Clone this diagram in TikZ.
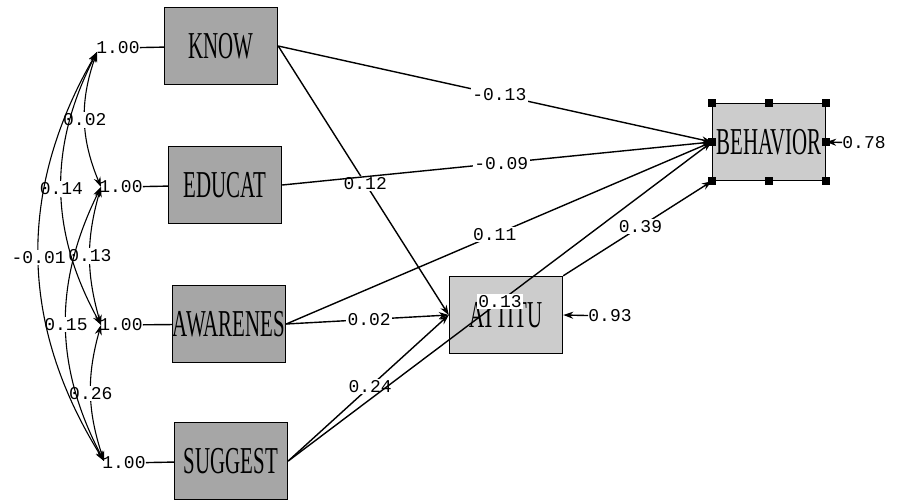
\documentclass[tikz,border=0pt]{standalone}
\usepackage{fontspec}
\newfontfamily\numfont{Liberation Mono}
\newfontfamily\namefont{Liberation Serif}
\usetikzlibrary{arrows.meta}
\newcommand{\varname}[1]{\scalebox{0.55}[1]{\namefont\fontsize{38}{38}\selectfont #1}}

\begin{document}
\begin{tikzpicture}[
    x=1pt,y=-1pt,
    obs/.style={rectangle,draw,line width=1.4pt,fill=gray!70,minimum width=113pt,minimum height=77pt,inner sep=0pt},
    lat/.style={obs,fill=gray!40},
    lbl/.style={fill=white,inner sep=1.5pt,font=\numfont\fontsize{18}{18}\selectfont},
    var/.style={inner sep=0pt,font=\numfont\fontsize{18}{18}\selectfont},
    arrow/.style={line width=1.4pt,->,>={Stealth[length=10pt,width=7pt]}},
    cov/.style={line width=1.1pt,<->,>={Stealth[length=10pt,width=7pt]}},
    handle/.style={fill=black,minimum size=8pt,inner sep=0pt}
]
    \useasboundingbox (0,0) rectangle (902,501);

    % observed variables
    \node[obs] (know) at (221,46) {\varname{KNOW}};
    \node[obs] (educ) at (225,185) {\varname{EDUCAT}};
    \node[obs] (aware) at (229,324) {\varname{AWARENES}};
    \node[obs] (sugg) at (231,461) {\varname{SUGGEST}};
    \node[lat] (attit) at (506,315) {\varname{ATTITU}};
    \node[lat] (behav) at (769,142) {\varname{BEHAVIOR}};

    % variances
    \node[var] (vK) at (118,48) {1.00};
    \node[var] (vE) at (121,187) {1.00};
    \node[var] (vA) at (121,325) {1.00};
    \node[var] (vS) at (124,463) {1.00};
    \draw[line width=1.4pt] (vK) -- (know);
    \draw[line width=1.4pt] (vE) -- (educ);
    \draw[line width=1.4pt] (vA) -- (aware);
    \draw[line width=1.4pt] (vS) -- (sugg);

    \coordinate (cK) at (97,52);
    \coordinate (cE) at (101,187);
    \coordinate (cA) at (101,325);
    \coordinate (cS) at (104,461);

    % covariances
    \draw[cov] (cK) to[bend right=21] node[lbl] {0.02} (cE);
    \draw[cov] (cE) to[bend right=16] node[lbl] {0.13} (cA);
    \draw[cov] (cA) to[bend right=17] node[lbl] {0.26} (cS);
    \draw[cov] (cK) to[bend right=28] node[lbl] {0.14} (cA);
    \draw[cov] (cE) to[bend right=27] node[lbl] {0.15} (cS);
    \draw[cov] (cK) to[bend right=31] node[lbl] {-0.01} (cS);

    % paths
    \draw[arrow] (know.east) -- node[lbl,pos=0.51] {-0.13} (behav.west);
    \draw[arrow] (know.east) -- node[lbl,pos=0.51] {0.12} (attit.west);
    \draw[arrow] (educ.east) -- node[lbl,pos=0.51] {-0.09} (behav.west);
    \draw[arrow] (aware.east) -- node[lbl,pos=0.49] {0.11} (behav.west);
    \draw[arrow] (aware.east) -- node[lbl,pos=0.51] {0.02} (attit.west);
    \draw[arrow] (sugg.east) -- node[lbl,pos=0.51] {0.24} (attit.west);
    \draw[arrow] (sugg.east) -- node[lbl,pos=0.5] {0.13} (behav.west);
    \draw[arrow] (attit.north east) -- node[lbl,pos=0.52] {0.39} (behav.south west);

    % errors
    \node[var] (eA) at (610,316) {0.93};
    \node[var] (eB) at (864,143) {0.78};
    \draw[arrow] (eA) -- (attit.east);
    \draw[arrow] (eB) -- (behav.east);

    % selection handles
    \foreach \a [count=\i] in {north west,north,north east,east,south east,south,south west,west}
        \node[handle] (h\i) at (behav.\a) {};
\end{tikzpicture}
\end{document}
